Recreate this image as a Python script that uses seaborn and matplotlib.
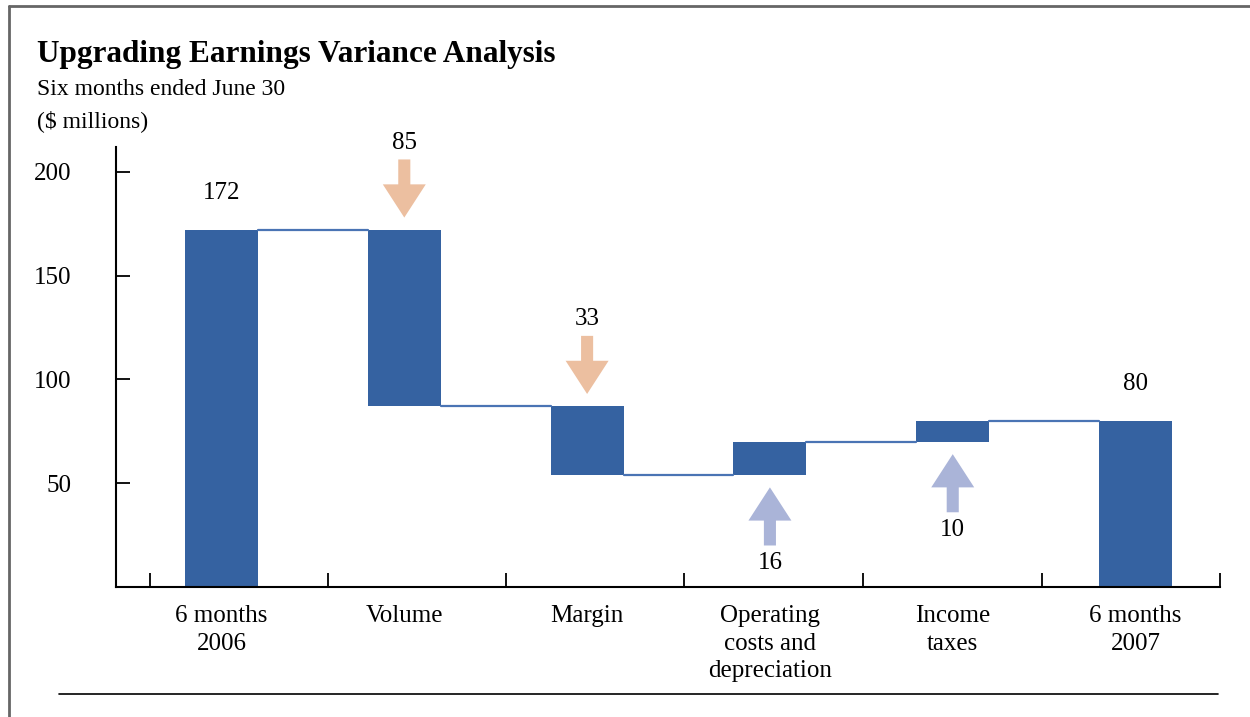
import matplotlib
matplotlib.use("Agg")
import matplotlib.pyplot as plt
from matplotlib.lines import Line2D
import numpy as np
import pandas as pd
import seaborn as sns

# chart data
categories = ["6 months\n2006", "Volume", "Margin",
              "Operating\ncosts and\ndepreciation", "Income\ntaxes", "6 months\n2007"]
changes = [172, -85, -33, 16, 10, 80]
labels = ["172", "85", "33", "16", "10", "80"]
is_total = [True, False, False, False, False, True]

# running totals -> floating bar ends
lows, highs = [], []
level = 0
for c, tot in zip(changes, is_total):
    if tot:
        lows.append(0)
        highs.append(c)
        level = c
    else:
        new = level + c
        lows.append(min(level, new))
        highs.append(max(level, new))
        level = new

df = pd.DataFrame({"cat": categories, "low": lows, "high": highs})

bar_blue = "#3562a1"
down_col = "#ecbfa0"
up_col = "#aab4d8"

sns.set_theme(style="ticks")
plt.rcParams["font.family"] = ["Liberation Serif", "DejaVu Serif"]
plt.rcParams["text.color"] = "black"
plt.rcParams["xtick.color"] = "black"
plt.rcParams["ytick.color"] = "black"

fig = plt.figure(figsize=(12.5, 7.17), dpi=100)
ax = fig.add_axes([116 / 1250, 1 - 587 / 717, (1220 - 116) / 1250, (587 - 147) / 717])
ax.set_axisbelow(False)

# tall bars in blue, then white bars to hide the part under each floating bar
sns.barplot(data=df, x="cat", y="high", color=bar_blue, width=0.4,
            saturation=1, linewidth=0, ax=ax, zorder=2)
sns.barplot(data=df, x="cat", y="low", color="white", width=0.42,
            saturation=1, linewidth=0, ax=ax, zorder=2.2)

# connector lines between bars
ends = []
level = 0
for c, tot in zip(changes, is_total):
    level = c if tot else level + c
    ends.append(level)
for i in range(len(categories) - 1):
    ax.plot([i + 0.2, i + 1 - 0.2], [ends[i], ends[i]], color="#4a74b4", lw=1.6, zorder=4)

# arrows and value labels
for i, (c, tot, lab) in enumerate(zip(changes, is_total, labels)):
    if tot:
        ax.text(i, highs[i] + 18, lab, ha="center", va="center", fontsize=18, clip_on=False)
    elif c < 0:
        tip = highs[i] + 6
        tail = tip + 28
        ax.arrow(i, tail, 0, tip - tail, width=0.066, head_width=0.235, head_length=16,
                 length_includes_head=True, color=down_col, lw=0, clip_on=False, zorder=5)
        ax.text(i, tail + 8, lab, ha="center", va="center", fontsize=18, clip_on=False)
    else:
        tip = lows[i] - 6
        tail = tip - 28
        ax.arrow(i, tail, 0, tip - tail, width=0.066, head_width=0.235, head_length=16,
                 length_includes_head=True, color=up_col, lw=0, clip_on=False, zorder=5)
        ax.text(i, tail - 8.5, lab, ha="center", va="center", fontsize=18, clip_on=False)

ax.set_xlim(-0.577, 5.462)
ax.set_ylim(0, 212)
ax.set_xlabel("")
ax.set_ylabel("")
ax.set_yticks([50, 100, 150, 200])
ax.set_xticks(range(len(categories)))
ax.set_xticklabels(categories, fontsize=18, linespacing=1.33, va="top")
ax.set_xticks([-0.39, 0.583, 1.556, 2.53, 3.508, 4.488, 5.462], minor=True)
ax.tick_params(axis="x", which="major", length=0, pad=13)
ax.tick_params(axis="x", which="minor", direction="in", length=10, width=1.3, color="black")
ax.tick_params(axis="y", direction="in", length=10, width=1.3, labelsize=18, pad=32)
for s in ["top", "right"]:
    ax.spines[s].set_visible(False)
for s in ["left", "bottom"]:
    ax.spines[s].set_linewidth(1.5)
    ax.spines[s].set_color("black")

# titles
fig.text(37 / 1250, 1 - 62 / 717, "Upgrading Earnings Variance Analysis",
         fontsize=22.5, fontweight="bold", va="baseline")
fig.text(37 / 1250, 1 - 95 / 717, "Six months ended June 30", fontsize=17, va="baseline")
fig.text(37 / 1250, 1 - 127 / 717, "($ millions)", fontsize=17, va="baseline")

# page frame and bottom rule
fig.add_artist(Line2D([9 / 1250, 9 / 1250], [0, 1 - 6 / 717], color="#666666", lw=2))
fig.add_artist(Line2D([9 / 1250, 1], [1 - 6 / 717, 1 - 6 / 717], color="#666666", lw=2))
fig.add_artist(Line2D([59 / 1250, 1218 / 1250], [1 - 694 / 717, 1 - 694 / 717], color="black", lw=1.2))

fig.savefig("out.png", dpi=100, facecolor="white")
